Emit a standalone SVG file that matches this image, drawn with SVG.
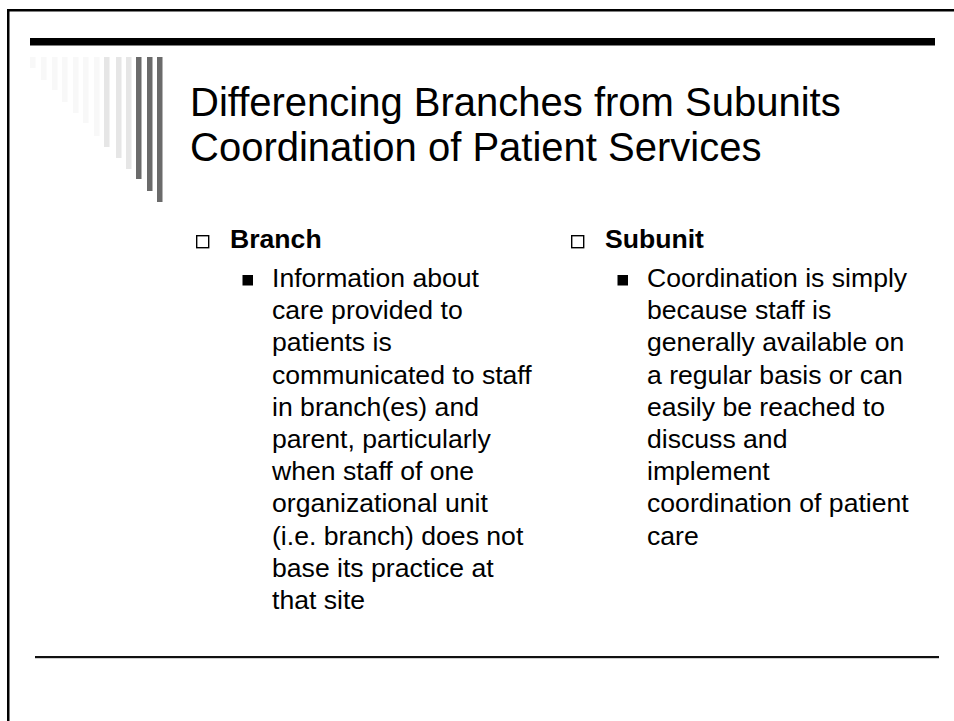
<svg xmlns="http://www.w3.org/2000/svg" width="954" height="721" viewBox="0 0 954 721">
<style>
.t{font-family:"Liberation Sans",Arial,sans-serif;fill:#000}
.title{font-size:40px}
.b{font-size:26.6px}
.h{font-size:26.6px;font-weight:bold}
.f{fill:#f8f8f8}.m{fill:#e6e6e6}.d{fill:#6b6b6b}
.hb{fill:none;stroke:#000;stroke-width:1.4}
</style>
<rect x="0" y="0" width="954" height="721" fill="#fff"/>
<g id="frame">
<rect x="7" y="9" width="947" height="2.5" fill="#000"/>
<rect x="7" y="9" width="2.5" height="712" fill="#000"/>
<rect x="30" y="38" width="905" height="7.5" fill="#000"/>
<rect x="35" y="656" width="904" height="2.2" fill="#111"/>
</g>
<g id="bars">
<rect class="f" x="30" y="57" width="5.5" height="11"/>
<rect class="f" x="41" y="57" width="5.5" height="23"/>
<rect class="f" x="52" y="57" width="5.5" height="33"/>
<rect class="f" x="62" y="57" width="5.5" height="45"/>
<rect class="f" x="73" y="57" width="5.5" height="56"/>
<rect class="f" x="83" y="57" width="5.5" height="66"/>
<rect class="f" x="94" y="57" width="5.5" height="79"/>
<rect class="m" x="104" y="57" width="5.5" height="90"/>
<rect class="m" x="116" y="57" width="5.5" height="101"/>
<rect class="m" x="126" y="57" width="5.5" height="112"/>
<rect class="d" x="136" y="57" width="5.5" height="122"/>
<rect class="d" x="147" y="57" width="5.5" height="134"/>
<rect class="d" x="157" y="57" width="5.5" height="145"/>
</g>
<g id="title">
<text class="t title" x="190" y="116">Differencing Branches from Subunits</text>
<text class="t title" x="190" y="161">Coordination of Patient Services</text>
</g>
<g id="branch">
<rect class="hb" x="196.7" y="235.7" width="12" height="12"/>
<text class="t h" x="230" y="248">Branch</text>
<rect x="242.5" y="275" width="10.5" height="10.5" fill="#000"/>
<text class="t b" x="272">
<tspan x="272" y="287">Information about</tspan>
<tspan x="272" y="319.2">care provided to</tspan>
<tspan x="272" y="351.4">patients is</tspan>
<tspan x="272" y="383.6">communicated to staff</tspan>
<tspan x="272" y="415.8">in branch(es) and</tspan>
<tspan x="272" y="448">parent, particularly</tspan>
<tspan x="272" y="480.2">when staff of one</tspan>
<tspan x="272" y="512.4">organizational unit</tspan>
<tspan x="272" y="544.6">(i.e. branch)  does not</tspan>
<tspan x="272" y="576.8">base its practice at</tspan>
<tspan x="272" y="609">that site</tspan>
</text>
</g>
<g id="subunit">
<rect class="hb" x="571.7" y="235.7" width="12" height="12"/>
<text class="t h" x="605" y="248">Subunit</text>
<rect x="617.5" y="275" width="10.5" height="10.5" fill="#000"/>
<text class="t b" x="647">
<tspan x="647" y="287">Coordination is simply</tspan>
<tspan x="647" y="319.2">because staff is</tspan>
<tspan x="647" y="351.4">generally available on</tspan>
<tspan x="647" y="383.6">a regular basis or can</tspan>
<tspan x="647" y="415.8">easily be reached to</tspan>
<tspan x="647" y="448">discuss and</tspan>
<tspan x="647" y="480.2">implement</tspan>
<tspan x="647" y="512.4">coordination of patient</tspan>
<tspan x="647" y="544.6">care</tspan>
</text>
</g>
</svg>
